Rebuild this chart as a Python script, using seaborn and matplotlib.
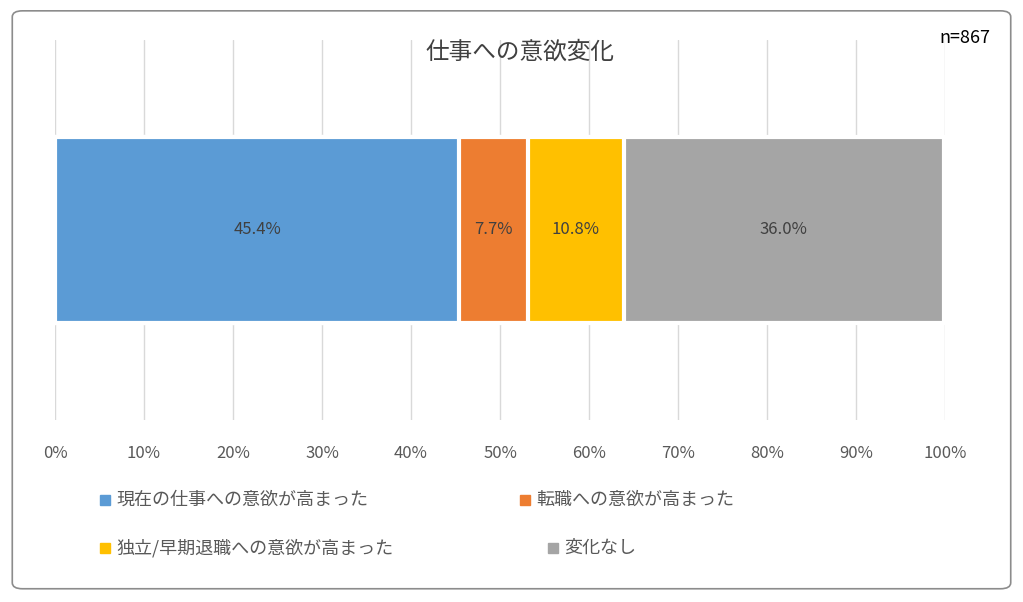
import matplotlib
matplotlib.use("Agg")
import matplotlib.pyplot as plt
from matplotlib.patches import FancyBboxPatch
import numpy as np
import pandas as pd
import seaborn as sns

# data
categories = ["現在の仕事への意欲が高まった", "転職への意欲が高まった",
              "独立/早期退職への意欲が高まった", "変化なし"]
values = [45.4, 7.7, 10.8, 36.0]
colors = ["#5b9bd5", "#ed7d31", "#ffc000", "#a5a5a5"]
tick_labels = ["0%", "10%", "20%", "30%", "40%", "50%", "60%", "70%", "80%", "90%", "100%"]

sns.set_style("white")
# set font after set_style, which resets font.family
plt.rcParams["font.family"] = "Noto Sans CJK JP"

fig = plt.figure(figsize=(10.23, 6.02), dpi=100)
fig.patches.append(FancyBboxPatch((0.012, 0.022), 0.976, 0.96, boxstyle="round,pad=0,rounding_size=0.01",
                                  transform=fig.transFigure, fill=False, edgecolor="#8c8c8c", linewidth=1.2))
ax = fig.add_axes([55 / 1023, 1 - 420 / 602, 890 / 1023, 380 / 602])

cum = np.cumsum(values)
df = pd.DataFrame({"row": ["all"] * len(values), "cum": cum, "cat": categories})
# draw cumulative bars from the longest down so each segment shows
for i in reversed(range(len(values))):
    sns.barplot(data=df.iloc[[i]], x="cum", y="row", orient="h", color=colors[i], saturation=1,
                width=0.49, edgecolor="white", linewidth=3, ax=ax, zorder=2)

starts = cum - np.array(values)
for s, v in zip(starts, values):
    ax.text(s + v / 2, 0, f"{v:.1f}%", ha="center", va="center", fontsize=12, color="#404040", zorder=3)

ax.set_xlim(0, 100)
ax.set_ylim(0.5, -0.5)
ax.set_xticks(np.arange(0, 101, 10))
ax.set_xticklabels(tick_labels, fontsize=12, color="#595959")
ax.tick_params(axis="x", length=0, pad=18)
ax.set_yticks([])
ax.set_xlabel("")
ax.set_ylabel("")
ax.grid(axis="x", color="#d9d9d9", linewidth=1, zorder=0)
ax.set_axisbelow(True)
for sp in ax.spines.values():
    sp.set_visible(False)

fig.text(0.508, 1 - 52 / 602, "仕事への意欲変化", ha="center", va="center", fontsize=17, color="#404040")
fig.text(0.968, 1 - 38 / 602, "n=867", ha="right", va="center", fontsize=13, color="#000000")

# legend laid out in two rows like the original
leg_pos = [(100, 500), (520, 500), (100, 548), (548, 548)]
for (px, py), c, lab in zip(leg_pos, colors, categories):
    fig.patches.append(plt.Rectangle((px / 1023, 1 - (py + 5) / 602), 10 / 1023, 10 / 602,
                                     transform=fig.transFigure, color=c))
    fig.text((px + 16) / 1023, 1 - py / 602, lab, ha="left", va="center", fontsize=13, color="#595959")

fig.savefig("out.png", dpi=100)
